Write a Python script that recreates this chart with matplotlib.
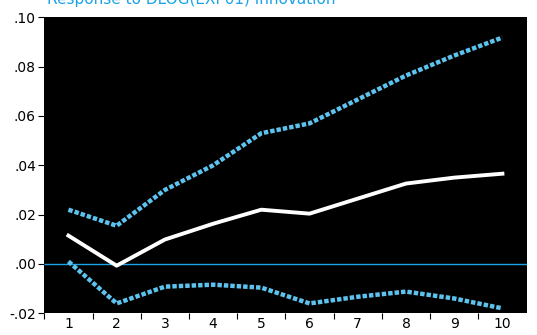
import matplotlib
matplotlib.use("Agg")
import matplotlib.pyplot as plt
from matplotlib.ticker import FixedLocator, FuncFormatter

periods = [1, 2, 3, 4, 5, 6, 7, 8, 9, 10]
response = [0.0115, -0.0007, 0.0099, 0.0163, 0.0220, 0.0204, 0.0265, 0.0326, 0.0350, 0.0366]
upper = [0.0220, 0.0155, 0.0300, 0.0400, 0.0530, 0.0570, 0.0667, 0.0764, 0.0845, 0.0918]
lower = [0.0010, -0.0160, -0.0092, -0.0084, -0.0096, -0.0160, -0.0133, -0.0112, -0.0140, -0.0180]
yticks = [-0.02, 0.00, 0.02, 0.04, 0.06, 0.08, 0.10]
title = "Response to DLOG(EXP01) Innovation"

band_col = "#5cc3ee"
zero_col = "#1aa3e8"

fig = plt.figure(figsize=(5.37, 3.35), dpi=100)
ax = fig.add_axes([0.0825, 0.0648, 0.898, 0.8835])
ax.set_facecolor("black")

ax.axhline(0, color=zero_col, lw=1.0, zorder=1)
ax.plot(periods, upper, color=band_col, lw=3.2, linestyle=(0, (1.0, 0.45)),
        dash_capstyle="butt", zorder=2)
ax.plot(periods, lower, color=band_col, lw=3.2, linestyle=(0, (1.0, 0.45)),
        dash_capstyle="butt", zorder=2)
ax.plot(periods, response, color="white", lw=2.8, zorder=3)

ax.set_xlim(0.5, 10.5)
ax.set_ylim(-0.02, 0.10)
ax.set_yticks(yticks)
ax.yaxis.set_major_formatter(FuncFormatter(
    lambda v, _: ("-" if v < -1e-9 else "") + ("%.2f" % abs(v))[1:]))

ax.xaxis.set_major_locator(FixedLocator([p + 0.5 for p in periods[:-1]] + [0.5]))
ax.xaxis.set_major_formatter(FuncFormatter(lambda v, _: ""))
ax.xaxis.set_minor_locator(FixedLocator(periods))
ax.xaxis.set_minor_formatter(FuncFormatter(lambda v, _: "%d" % round(v)))
ax.tick_params(axis="x", which="minor", length=0, labelsize=10, pad=3)
ax.tick_params(axis="x", which="major", length=4, width=0.8, direction="out")
ax.tick_params(axis="y", length=4, width=0.8, labelsize=10, pad=2)

for s in ax.spines.values():
    s.set_visible(False)

fig.text(0.088, 0.988, title, color=zero_col, fontsize=11, va="baseline")

fig.savefig("out.png", dpi=100)
